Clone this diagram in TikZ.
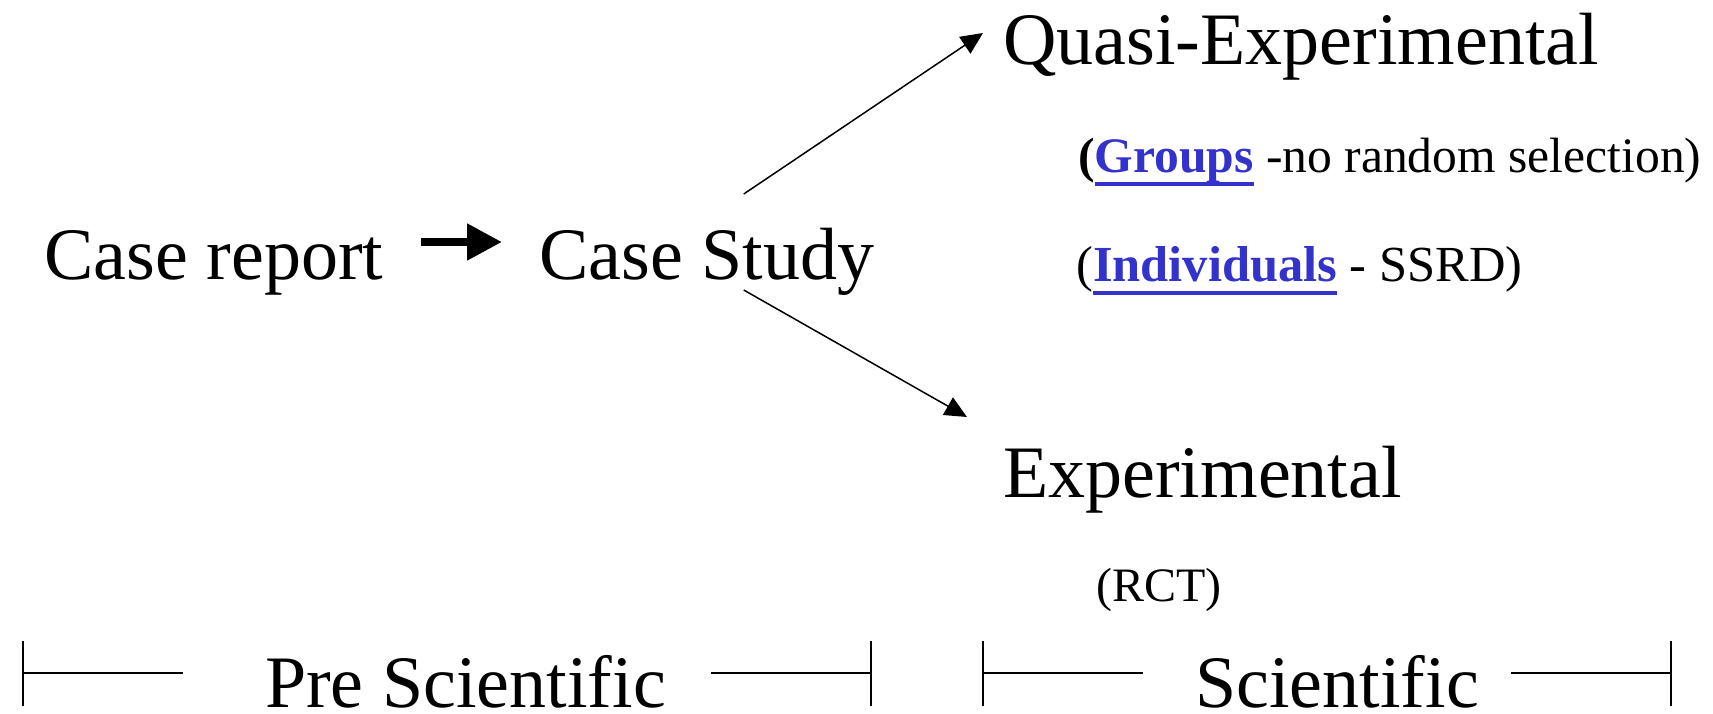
\documentclass[tikz,border=0pt]{standalone}
\usepackage{fontspec}
\setmainfont{Liberation Serif}
\usetikzlibrary{arrows.meta}
\definecolor{linkblue}{RGB}{51,51,204}
\newcommand{\linkword}[1]{{\bfseries\color{linkblue}\setbox0\hbox{#1}\rlap{\rule[-14pt]{\wd0}{4pt}}\box0}}
\tikzset{
  bigtext/.style={font=\fontsize{74}{80}\selectfont, inner sep=0pt, anchor=base west},
  smalltext/.style={font=\fontsize{48}{52}\selectfont, inner sep=0pt, anchor=base west},
  thinarrow/.style={line width=1.5pt, -{Triangle[length=22pt,width=20pt]}},
  thickarrow/.style={line width=8pt, -{Triangle[length=35pt,width=35pt]}},
  span/.style={line width=1.7pt}
}

\begin{document}
\begin{tikzpicture}[x=1pt,y=-1pt]
                \useasboundingbox (0,0) rectangle (1713,713);
                % stages
                \node[bigtext] (report) at (44,279) {Case report};
                \node[bigtext] (study) at (539,279) {Case Study};
                \node[bigtext] (quasi) at (1003,64) {Quasi-Experimental};
                \node[smalltext, font=\fontsize{49.6}{54}\selectfont] (groups) at (1078,172) {\textbf{(}\linkword{Groups} -no random selection)};
                \node[smalltext, font=\fontsize{50.5}{54}\selectfont] (indiv) at (1076,281) {(\linkword{Individuals} - SSRD)};
                \node[bigtext] (expt) at (1003,497) {Experimental};
                \node[smalltext] (rct) at (1096,601) {(RCT)};
                % arrows
                \draw[thickarrow] ([xshift=38pt,yshift=37pt]report.base east) -- ([xshift=-37pt,yshift=37pt]study.base west);
                \draw[thinarrow] ([xshift=37pt,yshift=85pt]study.base) -- ([xshift=-20pt,yshift=31pt]quasi.base west);
                \draw[thinarrow] ([xshift=37pt,yshift=-11pt]study.base) -- ([xshift=-36pt,yshift=80pt]expt.base west);
                % spans
                \node[bigtext] (pre) at (265,707) {Pre Scientific};
                \node[bigtext] (sci) at (1195,707) {Scientific};
                \draw[span] (23,641) -- (23,706) (23,673) -- (183,673) (711,673) -- (871,673) (871,641) -- (871,706);
                \draw[span] (983,641) -- (983,706) (983,673) -- (1143,673) (1511,673) -- (1671,673) (1671,641) -- (1671,706);
            \end{tikzpicture}
\end{document}
